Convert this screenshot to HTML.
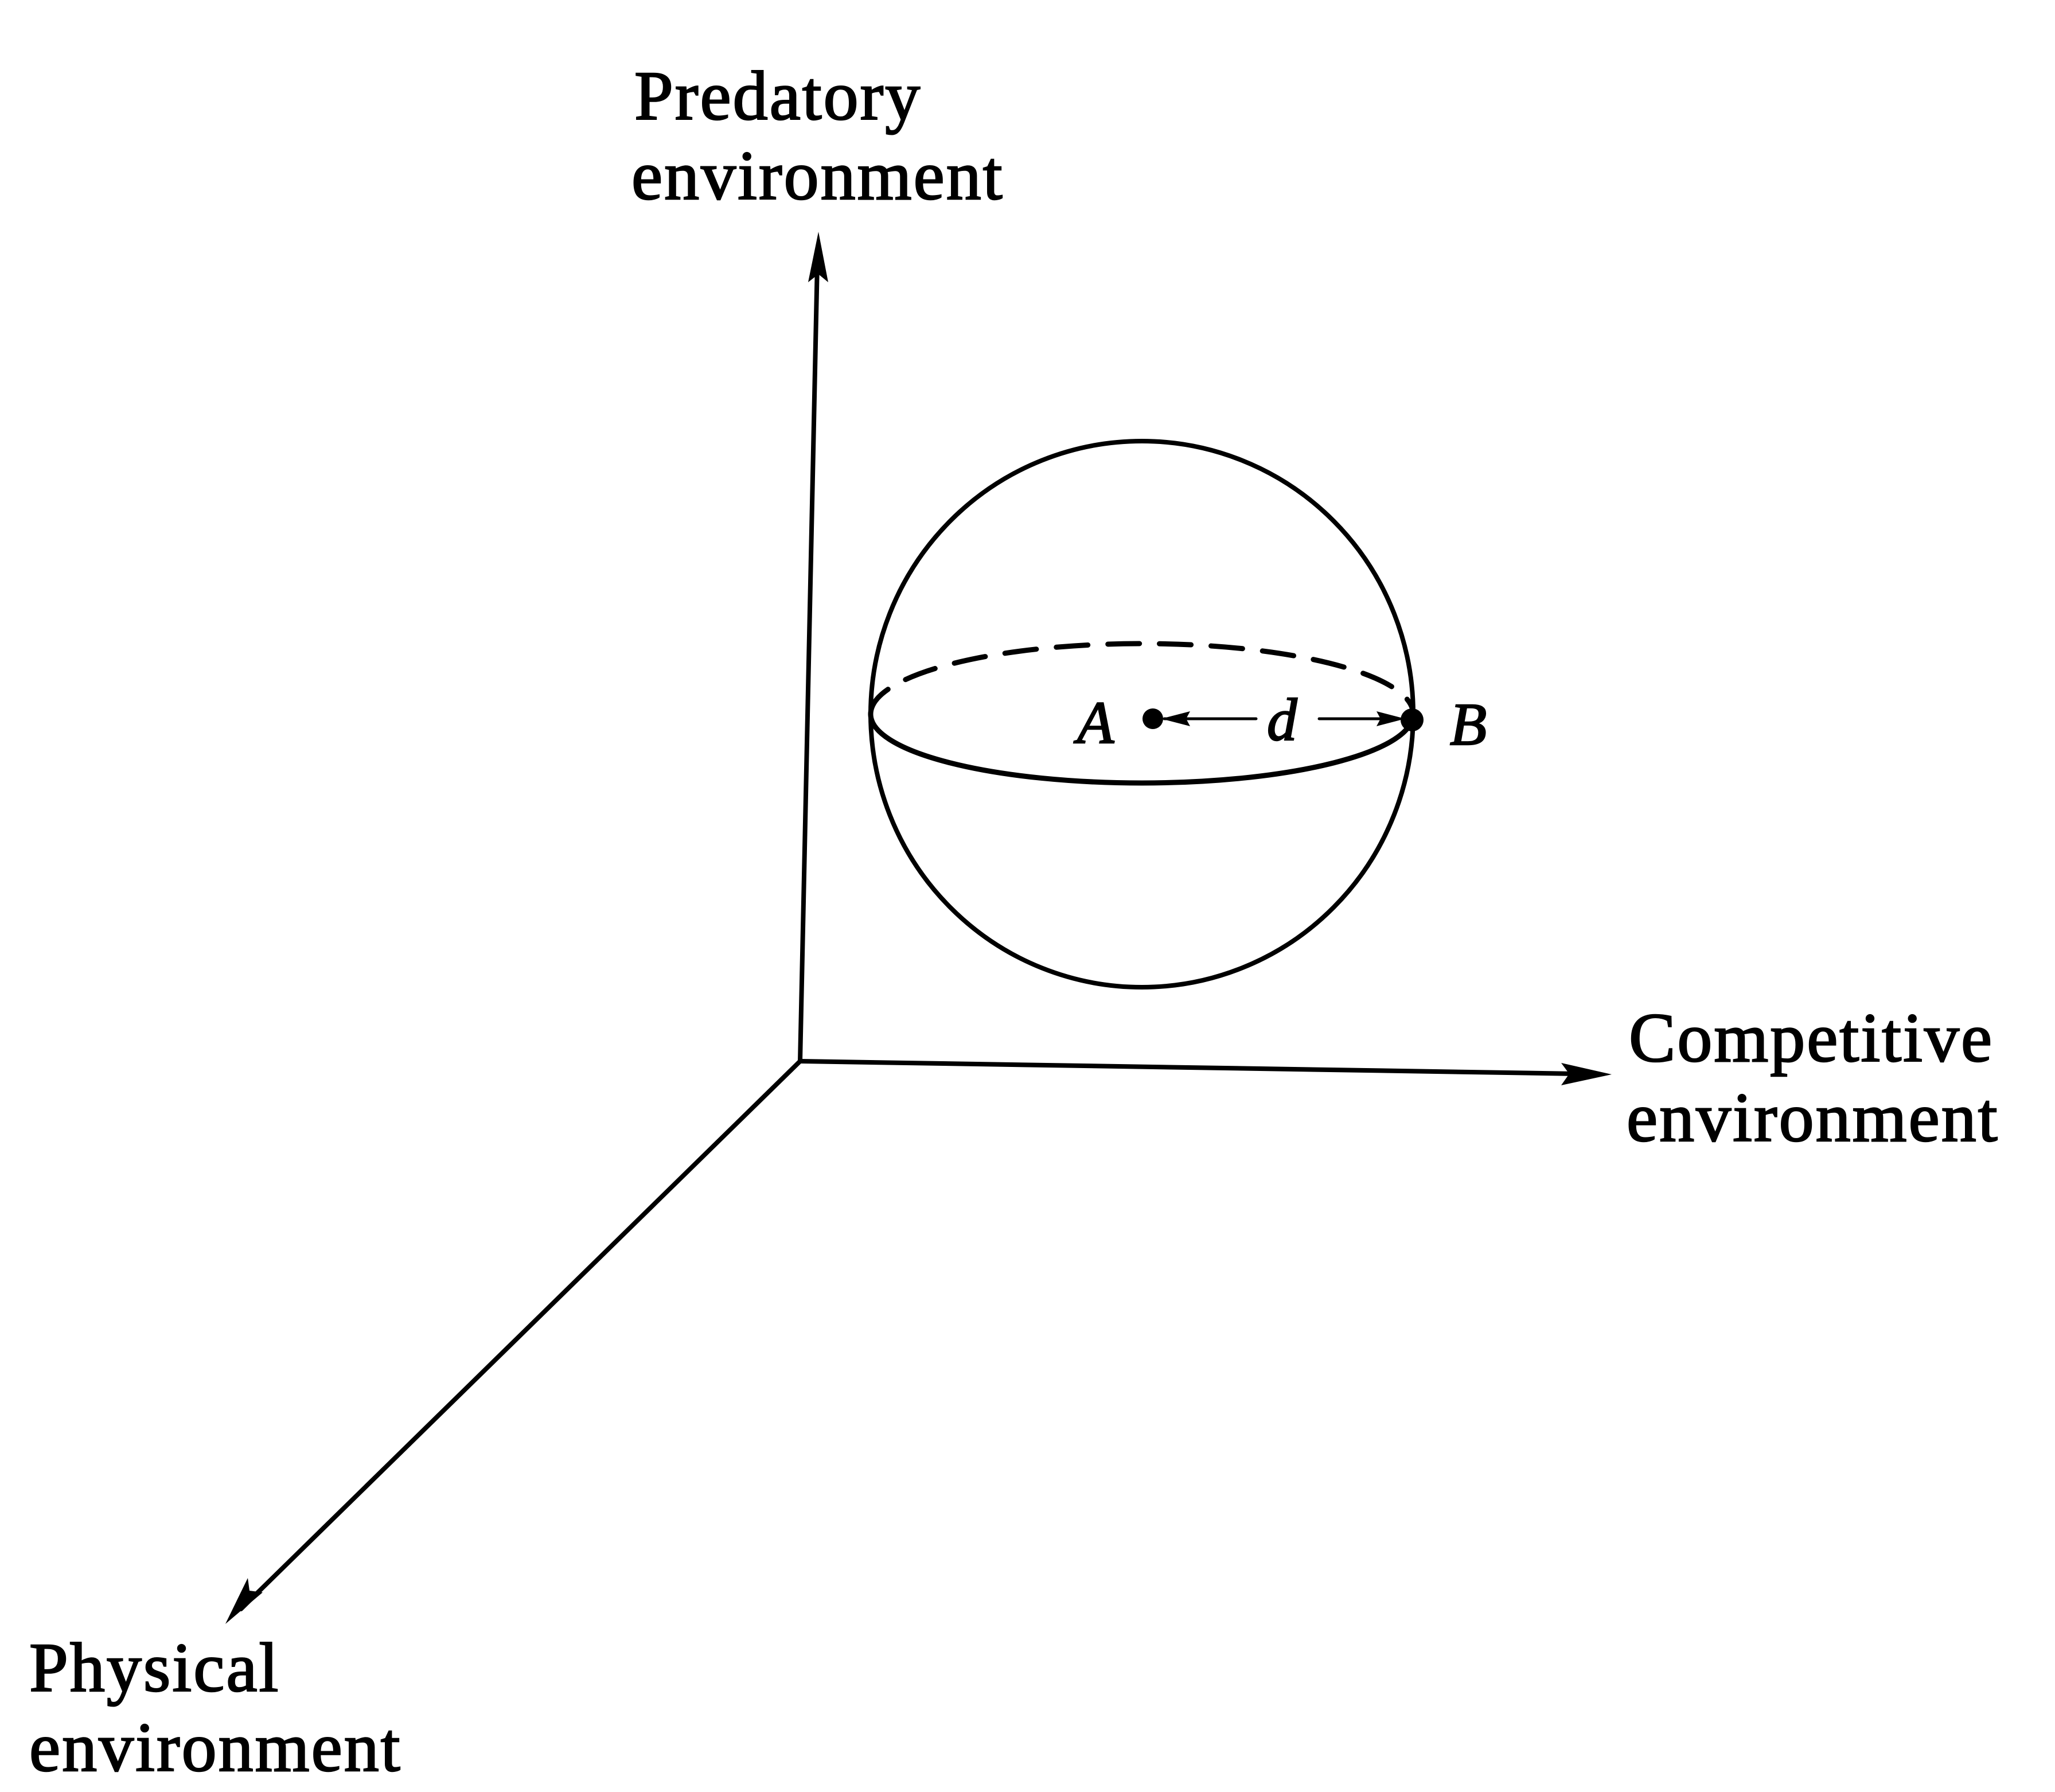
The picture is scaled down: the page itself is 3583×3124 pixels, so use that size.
<!DOCTYPE html>
<html><head><meta charset="utf-8"><style>
html,body{margin:0;padding:0;background:#fff;}
svg{display:block}
text{font-family:"Liberation Serif",serif;fill:#000;stroke:#000;stroke-width:2.5px;}
.l{font-size:122px;letter-spacing:3px;}
.i{font-size:105px;font-style:italic;}
</style></head><body>
<svg width="3583" height="3124" viewBox="0 0 3583 3124" xmlns="http://www.w3.org/2000/svg">
<g stroke="#000" stroke-width="8" fill="none" stroke-linecap="round">
<line x1="1395" y1="1850" x2="1425" y2="460"/>
<line x1="1395" y1="1850" x2="2750" y2="1872"/>
<line x1="1395" y1="1850" x2="420" y2="2805"/>
<ellipse cx="1991" cy="1245" rx="473" ry="476"/>
<path d="M1518 1245 A473 120 0 0 0 2464 1245" stroke-width="9"/>
<path d="M1518 1245 A473 123 0 0 1 2464 1245" stroke-dasharray="55 35" stroke-width="9"/>
<line x1="2030" y1="1253" x2="2190" y2="1253" stroke-width="5"/>
<line x1="2300" y1="1253" x2="2420" y2="1253" stroke-width="5"/>
</g>
<g fill="#000">
<polygon points="1427,404 1409,492 1427,478 1444,492"/>
<polygon points="2810,1873 2722,1853 2736,1872 2722,1892"/>
<polygon points="393,2831 432,2751 435,2773 458,2776"/>
<polygon points="2025,1253 2075,1240 2068,1253 2075,1266"/>
<polygon points="2450,1253 2400,1240 2407,1253 2400,1266"/>
<circle cx="2010" cy="1253" r="18"/>
<circle cx="2462" cy="1255" r="20"/>
</g>
<text class="l" x="1106" y="208">Predatory</text>
<text class="l" x="1101" y="347">environment</text>
<text class="l" x="2840" y="1850">Competitive</text>
<text class="l" x="2836" y="1989">environment</text>
<text class="l" x="51" y="2948">Physical</text>
<text class="l" x="51" y="3087">environment</text>
<text class="i" x="1878" y="1295">A</text>
<text class="i" x="2209" y="1290">d</text>
<text class="i" x="2528" y="1298">B</text>
</svg>
</body></html>
